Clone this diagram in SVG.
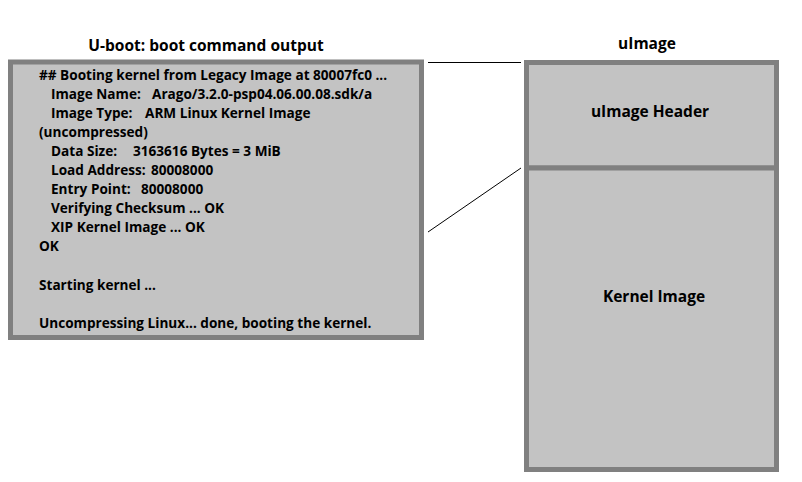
<svg xmlns="http://www.w3.org/2000/svg" width="802" height="482" viewBox="0 0 802 482">
<style>
.box{fill:#c3c3c3;stroke:#808080;stroke-width:5}
.t{font-family:"Open Sans",Lato,sans-serif;font-weight:bold;fill:#000}
.title{font-size:15.5px;text-anchor:middle}
.body{font-size:13.6px}
.lbl{font-size:15.5px;text-anchor:middle}
.conn{stroke:#000;stroke-width:1;fill:none}
</style>
<rect width="802" height="482" fill="#fff"/>
<g id="uboot">
<text class="t title" x="206" y="51">U-boot: boot command output</text>
<rect class="box" x="10.5" y="62" width="411" height="275.5"/>
<text class="t body" x="39" y="80">## Booting kernel from Legacy Image at 80007fc0 ...</text>
<text class="t body" y="99"><tspan x="51">Image Name:</tspan><tspan x="152">Arago/3.2.0-psp04.06.00.08.sdk/a</tspan></text>
<text class="t body" y="118"><tspan x="51">Image Type:</tspan><tspan x="145">ARM Linux Kernel Image</tspan></text>
<text class="t body" x="39" y="137">(uncompressed)</text>
<text class="t body" y="156"><tspan x="51">Data Size:</tspan><tspan x="133">3163616 Bytes = 3 MiB</tspan></text>
<text class="t body" y="175"><tspan x="51">Load Address:</tspan><tspan x="151">80008000</tspan></text>
<text class="t body" y="194"><tspan x="51">Entry Point:</tspan><tspan x="141">80008000</tspan></text>
<text class="t body" x="51" y="213">Verifying Checksum ... OK</text>
<text class="t body" x="51" y="232">XIP Kernel Image ... OK</text>
<text class="t body" x="39" y="251">OK</text>
<text class="t body" x="39" y="290">Starting kernel ...</text>
<text class="t body" x="39" y="328">Uncompressing Linux... done, booting the kernel.</text>
</g>
<g id="uimage-title">
<text class="t title" x="647" y="49">uImage</text>
</g>
<g id="uimage-header">
<rect class="box" x="526.5" y="62.5" width="250" height="105.5"/>
<text class="t lbl" x="650" y="117">uImage Header</text>
</g>
<g id="kernel-image">
<rect class="box" x="526.5" y="168" width="250" height="301.5"/>
<text class="t lbl" x="654" y="302">Kernel Image</text>
</g>
<g id="connectors">
<line class="conn" x1="428" y1="62.5" x2="521" y2="62.5"/>
<line class="conn" x1="428" y1="232" x2="521" y2="168"/>
</g>
</svg>
